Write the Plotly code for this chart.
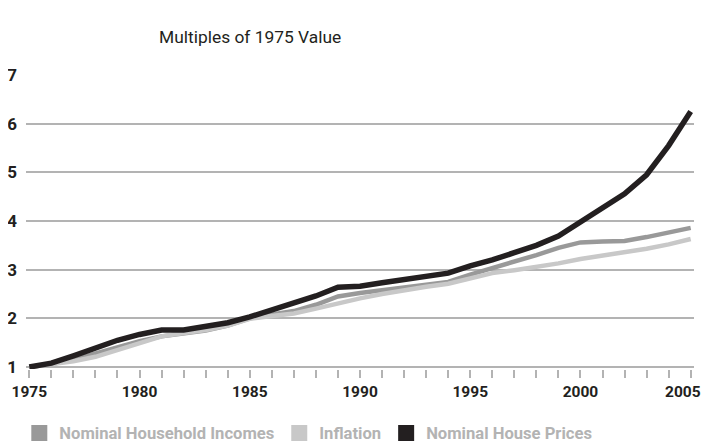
import plotly.graph_objects as go

years = list(range(1975, 2006))
incomes = [1.00, 1.06, 1.15, 1.28, 1.42, 1.53, 1.63, 1.70, 1.75, 1.85, 2.00,
           2.08, 2.15, 2.28, 2.45, 2.52, 2.58, 2.63, 2.68, 2.75, 2.90,
           3.03, 3.15, 3.30, 3.45, 3.56, 3.58, 3.59, 3.67, 3.76, 3.86]
inflation = [1.00, 1.05, 1.12, 1.21, 1.35, 1.50, 1.63, 1.70, 1.76, 1.85, 1.99,
             2.05, 2.10, 2.20, 2.31, 2.41, 2.50, 2.58, 2.65, 2.71, 2.82,
             2.93, 2.99, 3.05, 3.13, 3.22, 3.29, 3.35, 3.43, 3.52, 3.63]
house = [1.00, 1.08, 1.23, 1.40, 1.55, 1.67, 1.76, 1.76, 1.83, 1.91, 2.03,
         2.17, 2.31, 2.46, 2.64, 2.66, 2.73, 2.80, 2.87, 2.93, 3.08,
         3.20, 3.35, 3.50, 3.69, 3.98, 4.27, 4.56, 4.95, 5.55, 6.25]

series_names = ["Nominal Household Incomes", "Inflation", "Nominal House Prices"]
series_colors = ["#999999", "#c8c8c8", "#231f20"]
y_ticks = [1, 2, 3, 4, 5, 6, 7]
x_tickvals = years
x_ticktext = [str(y) if y % 5 == 0 else "" for y in years]
title_text = "Multiples of 1975 Value"

FONT = "Roboto, Liberation Sans, sans-serif"

# page has an 8px body margin; figure is sized/placed to compensate
OFF = 8
W, H = 711 - OFF, 444 - OFF
L, R, T, B = 25.7 - OFF, 16.7, 74 - OFF, 75.1
PH = H - T - B
PW = W - L - R

fig = go.Figure()
widths = [4.5, 4.5, 5.5]
for name, vals, col, w in zip(series_names, [incomes, inflation, house], series_colors, widths):
    fig.add_trace(go.Scatter(x=years, y=vals, mode="lines", name=name,
                             line=dict(color=col, width=w),
                             showlegend=False, hoverinfo="skip"))
for name, col in zip(series_names, series_colors):
    fig.add_trace(go.Scatter(x=[None], y=[None], mode="markers", name=name,
                             marker=dict(symbol="square", size=16, color=col),
                             showlegend=True))

fig.add_annotation(text=title_text, xref="paper", yref="paper",
                   x=(250 - 25.7) / PW, y=(368.9 - 37) / PH,
                   xanchor="center", yanchor="middle", showarrow=False,
                   font=dict(family=FONT, size=17.4, color="#231f20"))

# last x label is nudged inside the right edge (as in the original)
tick_font = dict(family=FONT, size=15.5, color="#231f20", weight="bold")
shown_ticktext = x_ticktext[:-1] + [""]
fig.add_annotation(text=x_ticktext[-1], xref="x", yref="paper",
                   x=x_tickvals[-1], y=0, xanchor="right", yanchor="top",
                   xshift=12, yshift=-12, showarrow=False, font=tick_font)

fig.update_layout(
    width=W, height=H,
    margin=dict(l=L, r=R, t=T, b=B, autoexpand=False),
    paper_bgcolor="white", plot_bgcolor="white",
    font=dict(family=FONT, color="#231f20"),
    showlegend=True,
    legend=dict(orientation="h", x=(19 - 25.7) / PW, xanchor="left",
                y=(368.9 - 433) / PH, yanchor="middle",
                font=dict(family=FONT, size=16.6, color="#b3b3b3", weight="bold"),
                itemsizing="trace", bgcolor="rgba(0,0,0,0)"),
)
fig.update_xaxes(range=[1974.85, 2005.15], tickvals=x_tickvals, ticktext=shown_ticktext,
                 ticks="outside", ticklen=8, tickwidth=1.5, tickcolor="#b3b3b3",
                 showgrid=False, zeroline=False, showline=False, automargin=False,
                 ticklabelstandoff=0, ticklabeloverflow="allow",
                 tickfont=tick_font)
fig.update_yaxes(range=[0.96, 7.02], tickvals=y_ticks, showgrid=True,
                 gridcolor="#b3b3b3", gridwidth=1.5, zeroline=False, showline=False,
                 ticks="", ticklabelstandoff=8, automargin=False,
                 tickfont=dict(family=FONT, size=17, color="#231f20", weight="bold"))

fig.write_html("out.html")
